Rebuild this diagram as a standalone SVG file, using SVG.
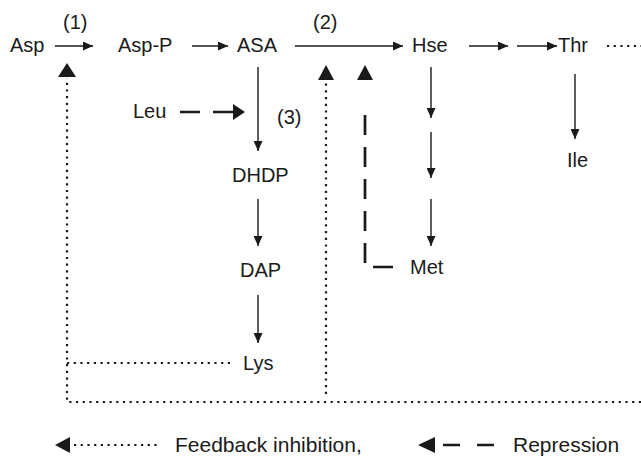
<svg xmlns="http://www.w3.org/2000/svg" width="641" height="457" viewBox="0 0 641 457">
<defs>
<marker id="ah" markerUnits="userSpaceOnUse" markerWidth="10" markerHeight="9" refX="10" refY="4.5" orient="auto"><path d="M0,0 L10,4.5 L0,9 z" fill="#1a1a1a"/></marker>
<style>
text{font-family:"Liberation Sans",Arial,sans-serif;font-size:20px;fill:#1a1a1a}
.lg{font-size:21px}
.s{stroke:#1a1a1a;stroke-width:1.4;fill:none;marker-end:url(#ah)}
.d{stroke:#1a1a1a;stroke-width:2.2;fill:none;stroke-dasharray:2.2 4.5}
.r{stroke:#1a1a1a;stroke-width:2.7;fill:none;stroke-dasharray:20 12}
.h{fill:#1a1a1a}
</style>
</defs>
<rect width="641" height="457" fill="#fff"/>
<g id="connectors">
<line class="s" x1="55" y1="46" x2="93" y2="46"/>
<line class="s" x1="192" y1="46" x2="228" y2="46"/>
<line class="s" x1="295" y1="46" x2="403" y2="46"/>
<line class="s" x1="469" y1="46" x2="508" y2="46"/>
<line class="s" x1="517" y1="46" x2="557" y2="46"/>
<line class="d" x1="607" y1="46" x2="641" y2="46"/>
<line class="s" x1="258" y1="67" x2="258" y2="151"/>
<line class="s" x1="258" y1="199" x2="258" y2="246"/>
<line class="s" x1="258" y1="295" x2="258" y2="343"/>
<line class="s" x1="431" y1="67" x2="431" y2="118"/>
<line class="s" x1="431" y1="132" x2="431" y2="178"/>
<line class="s" x1="431" y1="199" x2="431" y2="246"/>
<line class="s" x1="575" y1="74" x2="575" y2="139"/>
<path d="M180,112 H233" stroke="#1a1a1a" stroke-width="2.7" stroke-dasharray="20 13" fill="none"/>
<polygon class="h" points="245,112 233,104 233,120"/>
<path class="r" d="M393,267 H365 V115"/>
<polygon class="h" points="365,65 357,80 373,80"/>
<path class="d" d="M230,363 H67"/>
<path class="d" d="M641,402 H67 V78"/>
<polygon class="h" points="67,63 58,77 76,77"/>
<path class="d" d="M326,394 V82"/>
<polygon class="h" points="326,65 318,80 334,80"/>
</g>
<g id="n-asp"><text x="10" y="52">Asp</text></g>
<g id="l-1"><text x="63" y="29">(1)</text></g>
<g id="n-aspp"><text x="118" y="52">Asp-P</text></g>
<g id="n-asa"><text x="237" y="52">ASA</text></g>
<g id="l-2"><text x="313" y="29">(2)</text></g>
<g id="n-hse"><text x="412" y="52">Hse</text></g>
<g id="n-thr"><text x="558" y="52">Thr</text></g>
<g id="n-leu"><text x="133" y="118">Leu</text></g>
<g id="l-3"><text x="277" y="124">(3)</text></g>
<g id="n-dhdp"><text x="232" y="182">DHDP</text></g>
<g id="n-dap"><text x="240" y="277">DAP</text></g>
<g id="n-lys"><text x="243" y="370">Lys</text></g>
<g id="n-met"><text x="410" y="274">Met</text></g>
<g id="n-ile"><text x="567" y="167">Ile</text></g>
<g id="legend">
<polygon class="h" points="55,445 70,437 70,453"/>
<line class="d" x1="74" y1="445" x2="160" y2="445"/>
<text class="lg" x="175" y="452">Feedback inhibition,</text>
<polygon class="h" points="418,445 435,437 435,453"/>
<line x1="443" y1="445" x2="495" y2="445" stroke="#1a1a1a" stroke-width="2.5" stroke-dasharray="17 17"/>
<text class="lg" x="513" y="452">Repression</text>
</g>
</svg>
